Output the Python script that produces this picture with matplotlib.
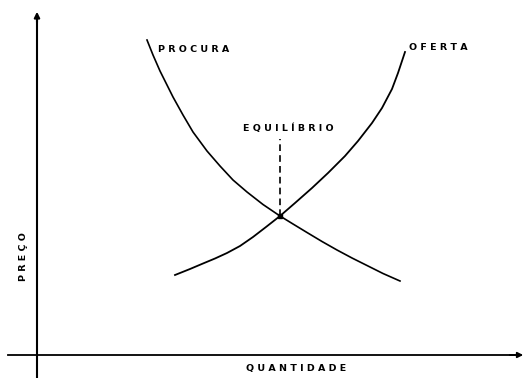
import matplotlib
matplotlib.use('Agg')
import matplotlib.pyplot as plt

# curva de procura (quantidade, preco)
procura_q = [110, 116, 123, 130, 136, 146, 156, 170, 183, 196, 210, 226, 243,
             256, 270, 285, 300, 315, 330, 346, 363]
procura_p = [315, 300, 284, 270, 258, 240, 223, 204, 189, 175, 163, 150.5, 139,
             131, 122.5, 113.5, 105, 97, 89.5, 81.5, 74]

# curva de oferta
oferta_q = [138, 153, 166, 178, 190, 203, 216, 229, 243, 258, 275, 291, 308,
            321, 335, 345, 355, 361, 368]
oferta_p = [80, 86, 91.5, 96.5, 102, 109, 118, 128, 139, 152, 167, 182, 199,
            214, 232, 247, 266, 282, 303]

# ponto de equilibrio
eq_q, eq_p = 243, 139
eq_top = 216

fig = plt.figure(figsize=(5.27, 3.78), dpi=100)
ax = fig.add_axes([0, 0, 1, 1])
ax.set_xlim(-37, 490)
ax.set_ylim(-23, 355)
ax.axis('off')

# eixos com setas
ax.plot([0, 0], [-23, 340], color='black', lw=1.5)
ax.annotate('', xy=(0, 346), xytext=(0, 330),
            arrowprops=dict(arrowstyle='-|>', color='black', lw=1.5, mutation_scale=8))
ax.plot([-29, 478], [0, 0], color='black', lw=1.3)
ax.annotate('', xy=(489, 0), xytext=(470, 0),
            arrowprops=dict(arrowstyle='-|>', color='black', lw=1.3, mutation_scale=8))

ax.plot(procura_q, procura_p, color='black', lw=1.2, solid_joinstyle='round')
ax.plot(oferta_q, oferta_p, color='black', lw=1.3, solid_joinstyle='round')
ax.plot([eq_q, eq_q], [eq_p, eq_top], color='black', lw=1.2, ls=(0, (4, 2.5)))
ax.plot([eq_q], [eq_p], 'ks', ms=3)

fs = 6.8
ax.text(121, 306, 'P R O C U R A', fontsize=fs, fontweight='bold', va='center', ha='left')
ax.text(372, 307, 'O F E R T A', fontsize=fs, fontweight='bold', va='center', ha='left')
ax.text(206, 227, 'E Q U I L Í B R I O', fontsize=fs, fontweight='bold', va='center', ha='left')
ax.text(259, -14, 'Q U A N T I D A D E', fontsize=fs, fontweight='bold', va='center', ha='center')
ax.text(-13, 98, 'P R E Ç O', fontsize=fs, fontweight='bold', va='center', ha='center', rotation=90)

fig.savefig('out.png', dpi=100)
